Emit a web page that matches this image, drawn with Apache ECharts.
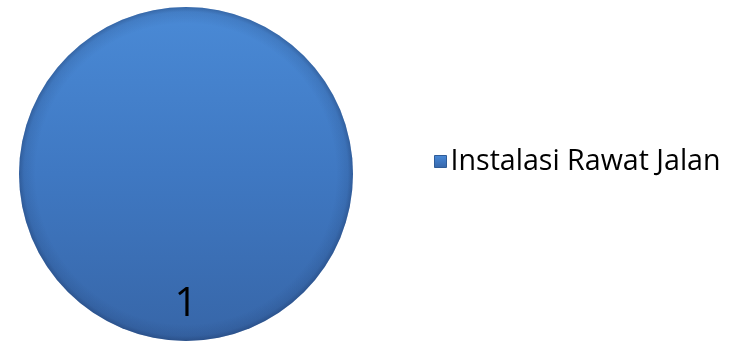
<!DOCTYPE html>
<html>
<head>
<meta charset="utf-8">
<script src="https://cdn.jsdelivr.net/npm/echarts@6/dist/echarts.min.js"></script>
<style>
  html, body { margin: 0; padding: 0; background: #ffffff; }
  #chart { width: 737px; height: 343px; }
</style>
</head>
<body>
<div id="chart"></div>
<script>
// Data
const categories = ['Instalasi Rawat Jalan'];
const values = [1];

const chart = echarts.init(document.getElementById('chart'), null, { renderer: 'canvas' });

const pieData = categories.map((name, i) => ({ name: name, value: values[i] }));

const option = {
  backgroundColor: '#ffffff',
  animation: false,
  legend: {
    data: categories,
    orient: 'vertical',
    left: 429,
    top: 142,
    icon: 'rect',
    itemWidth: 12,
    itemHeight: 12,
    itemGap: 8,
    itemStyle: {
      borderColor: '#2f5c98',
      borderWidth: 1
    },
    textStyle: {
      fontFamily: '"Open Sans", "Noto Sans", sans-serif',
      fontSize: 28.6,
      color: '#000000',
      padding: [0, 0, 0, -1]
    }
  },
  series: [
    {
      type: 'pie',
      center: [186, 174],
      radius: [0, 167],
      startAngle: 90,
      clockwise: true,
      data: pieData,
      itemStyle: {
        color: {
          type: 'linear', x: 0, y: 0, x2: 0, y2: 1,
          colorStops: [
            { offset: 0, color: '#4a8ad6' },
            { offset: 0.5, color: '#3f78c2' },
            { offset: 1, color: '#3766a8' }
          ]
        },
        borderWidth: 0
      },
      label: {
        show: true,
        position: 'inside',
        formatter: '{c}',
        fontFamily: '"Open Sans", Lato, sans-serif',
        fontSize: 40,
        color: '#000000'
      },
      labelLayout: function () {
        return { dy: 44 };
      },
      labelLine: { show: false },
      emphasis: { disabled: true }
    },
    {
      // soft darker rim giving the disc a bevelled edge
      type: 'pie',
      silent: true,
      center: [186, 174],
      radius: [0, 167],
      startAngle: 90,
      data: [{ name: '', value: 1 }],
      itemStyle: {
        color: {
          type: 'radial', x: 0.5, y: 0.5, r: 0.5,
          colorStops: [
            { offset: 0, color: 'rgba(20,40,80,0)' },
            { offset: 0.9, color: 'rgba(20,40,80,0)' },
            { offset: 0.97, color: 'rgba(20,40,80,0.12)' },
            { offset: 1, color: 'rgba(20,40,80,0.35)' }
          ]
        }
      },
      label: { show: false },
      labelLine: { show: false },
      tooltip: { show: false }
    }
  ]
};

chart.setOption(option);
</script>
</body>
</html>
